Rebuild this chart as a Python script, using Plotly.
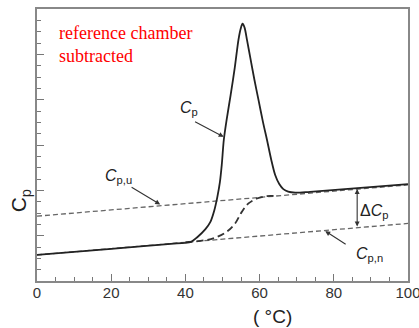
import plotly.graph_objects as go

# Measured Cp curve (temperature in °C, Cp in arbitrary units)
cp_T = [0, 20, 37.7, 41.3, 43.2, 45.4, 46.7, 47.8, 48.6, 49.3, 49.8, 50.35, 51.2, 52.2, 53.3,
        54.3, 54.9, 55.4, 55.95, 56.6, 57.5, 58.6, 59.7, 60.9, 62.0, 63.15, 64.2, 65.3,
        66.4, 67.7, 69.6, 73.6, 100]
cp_val = [0.575, 0.71, 0.83, 0.855, 0.966, 1.143, 1.298, 1.563, 1.851, 2.18, 2.56, 3.11, 3.60,
          4.106, 4.70, 5.32, 5.565, 5.675, 5.59, 5.32, 4.92, 4.44, 3.995, 3.51, 3.11, 2.67,
          2.337, 2.138, 2.027, 1.972, 1.95, 1.968, 2.135]

# Sigmoidal (progress) baseline
sig_T = [40, 45.3, 48.0, 51.1, 53.4, 55.2, 57.0, 59.3, 61.9, 64.0]
sig_val = [0.855, 0.90, 0.955, 1.083, 1.27, 1.525, 1.711, 1.82, 1.873, 1.875]

# Unfolded (Cp,u) and native (Cp,n) baselines
u_T = [0, 100]
u_val = [1.43, 2.12]
n_T = [0, 100]
n_val = [0.575, 1.27]

x_ticks = [0, 20, 40, 60, 80, 100]

fig = go.Figure()
fig.add_trace(go.Scatter(x=u_T, y=u_val, mode="lines",
                         line=dict(color="#666666", width=1.3, dash="5px,3px")))
fig.add_trace(go.Scatter(x=n_T, y=n_val, mode="lines",
                         line=dict(color="#666666", width=1.3, dash="5px,3px")))
fig.add_trace(go.Scatter(x=sig_T, y=sig_val, mode="lines", line_shape="spline",
                         line=dict(color="#333333", width=1.8, dash="7px,4px")))
fig.add_trace(go.Scatter(x=cp_T, y=cp_val, mode="lines", line_shape="spline",
                         line=dict(color="#222222", width=1.8, smoothing=0.8)))

lab_font = dict(family="Liberation Sans, Arial", size=16, color="#222222")
ann = []

def arrow(x, y, ax, ay, side="end"):
    return dict(x=x, y=y, ax=ax, ay=ay, xref="x", yref="y", axref="x", ayref="y",
                text="", showarrow=True, arrowhead=2, arrowsize=0.9, arrowwidth=1.1,
                arrowcolor="#333333", arrowside=side, startarrowhead=2, startarrowsize=0.9)

ann.append(arrow(50.3, 3.18, 42.2, 3.53))
ann.append(arrow(33.2, 1.69, 25.1, 2.09))
ann.append(arrow(77.7, 1.10, 83.6, 0.79))
ann.append(arrow(86.3, 2.03, 86.3, 1.17, side="end+start"))

def label(x, y, t):
    return dict(x=x, y=y, xref="x", yref="y", text=t, showarrow=False, font=lab_font,
                xanchor="center", yanchor="middle")

ann.append(label(40.9, 3.80, "<i>C</i><sub>p</sub>"))
ann.append(label(22.0, 2.31, "<i>C</i><sub>p,u</sub>"))
ann.append(label(90.8, 1.53, "Δ<i>C</i><sub>p</sub>"))
ann.append(label(89.6, 0.59, "<i>C</i><sub>p,n</sub>"))

ann.append(dict(x=0.054, y=0.955, xref="paper", yref="paper", xanchor="left", yanchor="top",
                text="reference chamber<br>subtracted", showarrow=False, align="left",
                font=dict(family="Liberation Serif, Times New Roman", size=18, color="#ff0000")))
ann.append(dict(x=-0.045, y=0.294, xref="paper", yref="paper", text="C<sub>p</sub>",
                textangle=-90, showarrow=False, xanchor="center", yanchor="middle",
                font=dict(family="Liberation Sans, Arial", size=21, color="#222222")))
ann.append(dict(x=0.634, y=-0.129, xref="paper", yref="paper", text="( °C)", showarrow=False,
                xanchor="center", yanchor="middle",
                font=dict(family="Liberation Sans, Arial", size=19, color="#222222")))

fig.update_layout(
    width=419, height=328, showlegend=False,
    margin=dict(l=37, r=11, t=9, b=47, autoexpand=False),
    paper_bgcolor="white", plot_bgcolor="white",
    annotations=ann,
    xaxis=dict(range=[0, 100], tickvals=x_ticks, ticktext=[str(v) for v in x_ticks],
               ticks="inside", ticklen=7, tickwidth=1.3, tickcolor="#777777",
               ticklabeloverflow="allow", automargin=False, ticklabelstandoff=-3,
               showline=True, linecolor="#888888", linewidth=2, mirror=True,
               showgrid=False, zeroline=False,
               minor=dict(dtick=5, ticks="inside", ticklen=4, tickwidth=1.2, tickcolor="#777777", showgrid=False),
               tickfont=dict(family="Liberation Sans, Arial", size=15, color="#333333")),
    yaxis=dict(range=[0, 6], dtick=1, ticks="inside", ticklen=7, tickwidth=1.3, tickcolor="#777777",
               showticklabels=False, showline=True, linecolor="#888888", linewidth=2, mirror=True,
               showgrid=False, zeroline=False, automargin=False,
               minor=dict(dtick=0.25, ticks="inside", ticklen=4, tickwidth=1.2, tickcolor="#777777", showgrid=False)),
)

fig.write_html("out.html")
